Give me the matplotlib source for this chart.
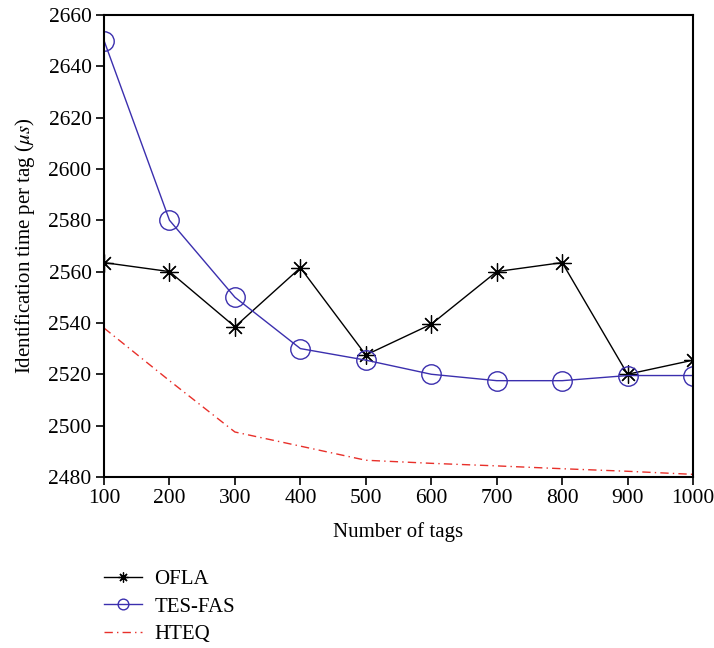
import numpy as np
import matplotlib.pyplot as plt

plt.rcParams['font.family'] = ['Liberation Serif', 'DejaVu Serif']
plt.rcParams['mathtext.fontset'] = 'stix'

# Datos
tags = [100, 200, 300, 400, 500, 600, 700, 800, 900, 1000]
ofla = [2563.5, 2560, 2538.5, 2561.5, 2527.5, 2539.5, 2560, 2563.5, 2520, 2525.5]
tes_fas = [2650, 2580, 2550, 2530, 2525.5, 2520, 2517.5, 2517.5, 2519.5, 2519.5]
hteq = [2538, 2517.5, 2497.5, 2492, 2486.5, 2485.3, 2484.3, 2483.2, 2482.2, 2481]

fig = plt.figure(figsize=(7.14, 6.48), dpi=100)
ax = fig.add_axes([0.1457, 0.264, 0.825, 0.713])

ax.plot(tags, ofla, color='black', lw=1.0, marker=(8, 2, 0), ms=13,
        mew=0.9, label='OFLA')
ax.plot(tags, tes_fas, color='#3b2fae', lw=1.0, marker='o', ms=14,
        mfc='none', mew=1.0, label='TES-FAS')
ax.plot(tags, hteq, color='#e8302a', lw=1.0, ls=(0, (6, 3, 1, 3)),
        label='HTEQ')

ax.set_xlim(100, 1000)
ax.set_ylim(2480, 2660)
ax.set_xticks(tags)
ax.set_yticks(np.arange(2480, 2661, 20))
ax.tick_params(axis='both', direction='out', length=6, width=1.2,
               labelsize=15.5, top=False, right=False, pad=3)
for s in ax.spines.values():
    s.set_linewidth(1.5)

ax.set_xlabel('Number of tags', fontsize=15, labelpad=10)
ax.set_ylabel(r'Identification time per tag ($\mu s$)', fontsize=15, labelpad=8)

fig.legend(loc='upper left', bbox_to_anchor=(0.12, 0.15), frameon=False,
           fontsize=15, handlelength=1.8, labelspacing=0.38, handletextpad=0.6,
           markerscale=0.55)

fig.savefig('out.png', dpi=100)
